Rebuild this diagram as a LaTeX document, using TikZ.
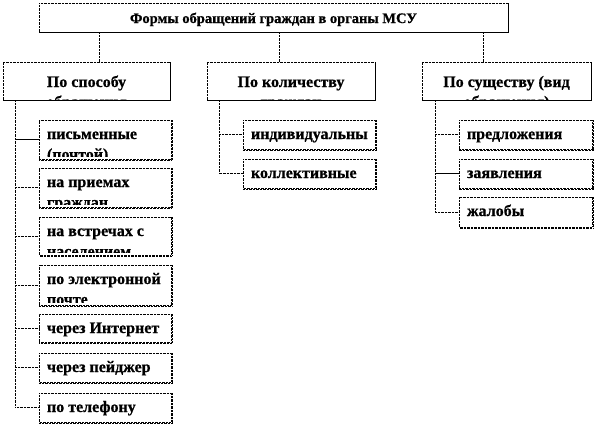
\documentclass[tikz,border=0pt]{standalone}
\usepackage{fontspec}
\setmainfont{Liberation Serif}
\newfontfamily\heavyfont{Liberation Serif}[UprightFont=* Bold, FakeBold=0.8]
\tikzset{
  boxbase/.style={draw=none, fill=white, inner sep=0pt, outer sep=0pt},
  dotline/.style={line width=0.7pt, dash pattern=on 0.7pt off 0.7pt, black},
  solidline/.style={line width=0.8pt, black},
  boxtext/.style={font=\heavyfont\fontsize{16}{19}\selectfont, inner sep=0pt,
    minimum width=0pt, minimum height=0pt, fill=none, draw=none},
  titletext/.style={boxtext, font=\heavyfont\fontsize{14.5}{18}\selectfont},
}
% left aligned box: name, x1, y1, x2, y2, line1, line2
\newcommand\lbox[7]{%
  \pgfmathsetmacro\mybw{#4-#2}\pgfmathsetmacro\mybh{#5-#3}%
  \node[boxbase, minimum width=\mybw pt, minimum height=\mybh pt,
    path picture={
      \clip ([yshift=2.5pt]path picture bounding box.south west) rectangle (path picture bounding box.north east);
      \node[boxtext, anchor=base west] (#1-l1) at ([xshift=8pt,yshift=-19pt]path picture bounding box.north west) {#6};
      \node[boxtext, anchor=base west] (#1-l2) at ([xshift=8pt,yshift=-39.5pt]path picture bounding box.north west) {#7};
    }] (#1) at ({(#2+#4)/2},{(#3+#5)/2}) {};
  \draw[dotline] (#1.south west) rectangle (#1.north east);
  \draw[dotline] ([xshift=1pt]#1.north east) -- ([shift={(1pt,-1pt)}]#1.south east) -- ([yshift=-1pt]#1.south west);
}
% centred box: name, x1, y1, x2, y2, baseline offset, line1, line2, text style
\newcommand\cbox[9]{%
  \pgfmathsetmacro\mybw{#4-#2}\pgfmathsetmacro\mybh{#5-#3}%
  \node[boxbase, minimum width=\mybw pt, minimum height=\mybh pt,
    path picture={
      \node[#9, anchor=base] (#1-l1) at ([yshift=-#6pt]path picture bounding box.north) {#7};
      \node[#9, anchor=base] (#1-l2) at ([yshift=-#6pt-20pt]path picture bounding box.north) {#8};
    }] (#1) at ({(#2+#4)/2},{(#3+#5)/2}) {};
  \draw[dotline] (#1.south west) -- (#1.north west) -- (#1.north east) -- (#1.south east);
  \draw[solidline] ([xshift=0.6pt]#1.south east) -- ([xshift=0.6pt]#1.north east);
  \draw[solidline] ([shift={(0.6pt,-0.4pt)}]#1.south east) -- ([yshift=-0.4pt]#1.south west);
}
\begin{document}
\begin{tikzpicture}[x=1pt,y=-1pt]
\useasboundingbox[fill=white] (0,0) rectangle (594,424);

% top
\cbox{T}{39}{3}{508}{32}{20}{Формы обращений граждан в органы МСУ}{}{titletext}
% level 2
\cbox{A}{3}{62}{170}{100}{25}{По способу}{обращения}{boxtext}
\cbox{B}{207}{62}{375}{100}{25}{По количеству}{граждан}{boxtext}
\cbox{C}{422}{62}{591}{100}{25}{По существу (вид}{обращения)}{boxtext}

% children A
\lbox{a1}{39}{120}{171}{159}{письменные}{(почтой)}
\lbox{a2}{39}{168}{171}{207}{на приемах}{граждан}
\lbox{a3}{39}{217}{171}{255}{на встречах с}{населением}
\lbox{a4}{39}{265}{171}{305}{по электронной}{почте}
\lbox{a5}{39}{314}{171}{342}{через Интернет}{}
\lbox{a6}{39}{353}{171}{382}{через пейджер}{}
\lbox{a7}{39}{393}{171}{422}{по телефону}{}
% children B
\lbox{b1}{243}{120}{375}{149}{индивидуальны}{}
\lbox{b2}{243}{159}{375}{188}{коллективные}{}
% children C
\lbox{c1}{459}{120}{592}{149}{предложения}{}
\lbox{c2}{459}{159}{592}{188}{заявления}{}
\lbox{c3}{459}{197}{592}{227}{жалобы}{}

% connectors from top
\draw[dotline] ([xshift=13pt]A.north) -- ([xshift=13pt]A.north |- T.south);
\draw[dotline] ([xshift=-12pt]B.north) -- ([xshift=-12pt]B.north |- T.south);
\draw[dotline] ([xshift=-23.5pt]C.north) -- ([xshift=-23.5pt]C.north |- T.south);

% trunk A
\draw[dotline] ([xshift=12pt]A.south west) |- (a7.west);
\draw[solidline] ([xshift=12pt]A.south west |- a1.west) -- (a1.west);
\foreach \n in {a2,a3,a4,a5,a6}{
  \draw[dotline] ([xshift=12pt]A.south west |- \n.west) -- (\n.west);
}
% trunk B
\draw[dotline] ([xshift=12pt]B.south west) |- (b2.west);
\draw[dotline] ([xshift=12pt]B.south west |- b1.west) -- (b1.west);
% trunk C
\draw[dotline] ([xshift=13pt]C.south west) |- (c3.west);
\draw[dotline] ([xshift=13pt]C.south west |- c1.west) -- (c1.west);
\draw[solidline] ([xshift=13pt]C.south west |- c2.west) -- (c2.west);
\end{tikzpicture}
\end{document}
